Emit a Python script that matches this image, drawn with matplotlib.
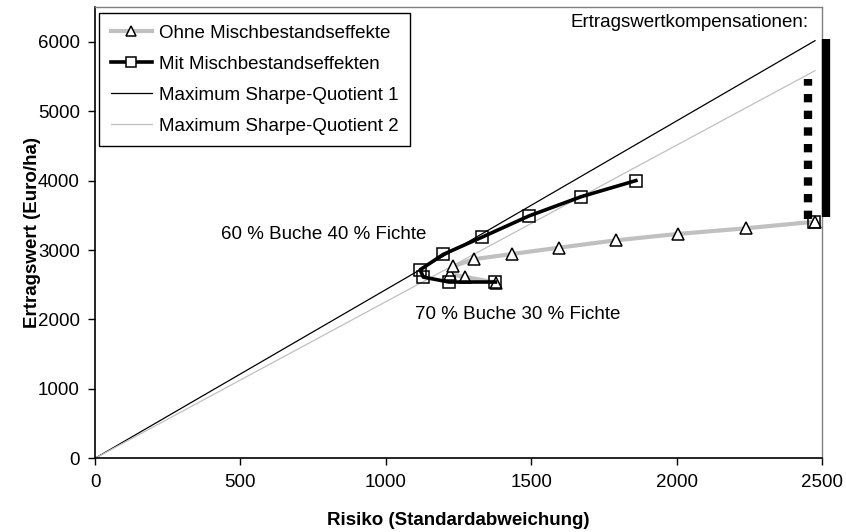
import matplotlib
matplotlib.use("Agg")
import matplotlib.pyplot as plt

plt.rcParams['font.family'] = ['Liberation Sans', 'DejaVu Sans']

# Ohne Mischbestandseffekte (Risiko, Ertragswert)
ohne_x = [1379, 1274, 1220, 1232, 1303, 1435, 1596, 1792, 2004, 2239, 2476]
ohne_y = [2529, 2612, 2650, 2765, 2868, 2943, 3034, 3140, 3231, 3313, 3408]

# Mit Mischbestandseffekten
mit_x = [1377, 1217, 1129, 1118, 1198, 1332, 1492, 1672, 1860]
mit_y = [2539, 2539, 2610, 2715, 2938, 3187, 3490, 3768, 4000]
mit_end_x = [2472]
mit_end_y = [3410]

# Maximum Sharpe-Quotient Linien
sharpe1_x = [0, 2476]
sharpe1_y = [0, 6015]
sharpe2_x = [0, 2476]
sharpe2_y = [0, 5583]

# Ertragswertkompensationen
komp_punkt_x = 2452
komp_punkt_y = [3450, 5470]
komp_linie_x = 2514
komp_linie_y = [3471, 6039]

fs = 13.5

fig = plt.figure(figsize=(8.46, 5.32), dpi=100)
ax = fig.add_axes([95/846, 1 - 458.3/532, 727/846, 451.3/532])

grau = '#c0c0c0'
ax.plot(sharpe1_x, sharpe1_y, color='black', lw=0.9, zorder=2)
ax.plot(sharpe2_x, sharpe2_y, color=grau, lw=0.9, zorder=2)

ax.plot(ohne_x, ohne_y, color=grau, lw=3, marker='^', ms=9,
        mfc='white', mec='black', mew=1.1, zorder=3)
ax.plot(mit_x, mit_y, color='black', lw=2.6, marker='s', ms=8,
        mfc='none', mec='black', mew=1.1, zorder=4)
ax.plot(mit_end_x, mit_end_y, ls='none', marker='s', ms=8,
        mfc='none', mec='black', mew=1.1, zorder=4)

# Legende mit eigenen Handles
h1, = ax.plot([], [], color=grau, lw=3, marker='^', ms=7, mfc='white', mec='black', mew=1.1)
h2, = ax.plot([], [], color='black', lw=2.6, marker='s', ms=7, mfc='white', mec='black', mew=1.1)
h3, = ax.plot([], [], color='black', lw=0.9)
h4, = ax.plot([], [], color=grau, lw=0.9)
leg = ax.legend([h1, h2, h3, h4],
                ['Ohne Mischbestandseffekte', 'Mit Mischbestandseffekten',
                 'Maximum Sharpe-Quotient 1', 'Maximum Sharpe-Quotient 2'],
                loc='upper left', bbox_to_anchor=(0.006, 0.986), fontsize=fs,
                fancybox=False, edgecolor='black', framealpha=1,
                handlelength=2.2, handletextpad=0.4, labelspacing=0.74,
                borderpad=0.6, borderaxespad=0)
leg.get_frame().set_linewidth(1.0)

# Kompensationsbalken
ax.plot([komp_punkt_x, komp_punkt_x], komp_punkt_y, color='black', lw=6,
        ls=(0, (1, 1)), solid_capstyle='butt', dash_capstyle='butt', zorder=5)
ax.plot([komp_linie_x, komp_linie_x], komp_linie_y, color='black', lw=6,
        solid_capstyle='butt', clip_on=False, zorder=5)

ax.text(786, 3230, '60 % Buche 40 % Fichte', fontsize=fs, va='center', ha='center')
ax.text(1100, 2070, '70 % Buche 30 % Fichte', fontsize=fs, va='center', ha='left')
ax.text(2045, 6271, 'Ertragswertkompensationen:', fontsize=fs, va='center', ha='center')

ax.set_xlim(0, 2500)
ax.set_ylim(0, 6500)
ax.set_xticks([0, 500, 1000, 1500, 2000, 2500])
ax.set_yticks([0, 1000, 2000, 3000, 4000, 5000, 6000])
ax.tick_params(direction='out', length=5, width=1, labelsize=fs, pad=6)

for s in ['top', 'right']:
    ax.spines[s].set_color('#808080')
    ax.spines[s].set_linewidth(1)
for s in ['left', 'bottom']:
    ax.spines[s].set_color('black')
    ax.spines[s].set_linewidth(1.2)

ax.set_xlabel('Risiko (Standardabweichung)', fontsize=fs, fontweight='bold')
ax.set_ylabel('Ertragswert (Euro/ha)', fontsize=fs, fontweight='bold')
ax.xaxis.set_label_coords(0.5, -0.12)
ax.yaxis.set_label_coords(-0.074, 0.5)

fig.savefig('out.png', dpi=100)
